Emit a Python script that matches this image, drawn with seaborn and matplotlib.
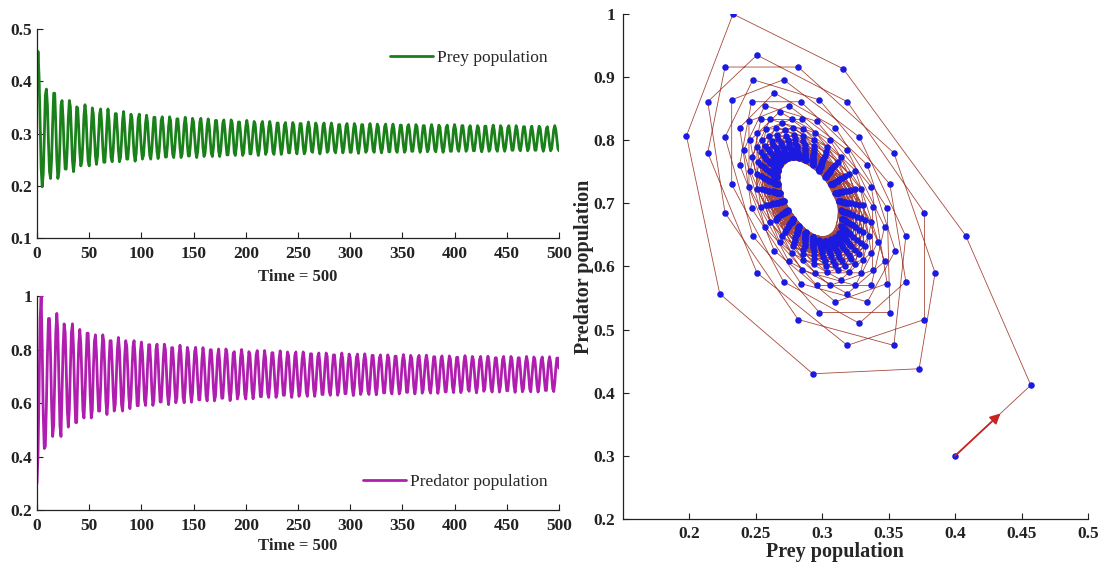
import matplotlib
matplotlib.use("Agg")
import matplotlib.pyplot as plt
import pandas as pd
import seaborn as sns

# ---------------------------------------------------------------------------
# Simulated populations, one value per time step (t = 0 ... 500)
# ---------------------------------------------------------------------------
# first steps of the orbit, starting from (prey, predator) = (0.4, 0.3)
prey_start = [0.400, 0.457, 0.408, 0.316, 0.233, 0.198, 0.223, 0.293, 0.373]
pred_start = [0.300, 0.412, 0.649, 0.913, 1.000, 0.807, 0.557, 0.430, 0.438]

# remaining steps, 15 steps (about two oscillations) per row
prey_cycles = [
    [0.385, 0.354, 0.282, 0.227, 0.214, 0.251, 0.319, 0.377, 0.377, 0.319, 0.251, 0.214, 0.227, 0.282, 0.354],
    [0.363, 0.328, 0.271, 0.232, 0.232, 0.271, 0.328, 0.363, 0.351, 0.298, 0.248, 0.227, 0.248, 0.298, 0.351],
    [0.349, 0.310, 0.264, 0.238, 0.247, 0.284, 0.334, 0.355, 0.334, 0.284, 0.247, 0.238, 0.264, 0.310, 0.349],
    [0.337, 0.296, 0.257, 0.241, 0.257, 0.296, 0.337, 0.347, 0.319, 0.275, 0.245, 0.245, 0.275, 0.319, 0.347],
    [0.325, 0.285, 0.254, 0.246, 0.268, 0.306, 0.338, 0.338, 0.306, 0.268, 0.246, 0.254, 0.285, 0.325, 0.342],
    [0.314, 0.277, 0.251, 0.251, 0.277, 0.314, 0.337, 0.329, 0.295, 0.261, 0.247, 0.261, 0.295, 0.329, 0.337],
    [0.304, 0.270, 0.251, 0.258, 0.286, 0.320, 0.335, 0.320, 0.286, 0.258, 0.251, 0.270, 0.304, 0.331, 0.331],
    [0.294, 0.265, 0.252, 0.265, 0.294, 0.325, 0.332, 0.312, 0.278, 0.255, 0.255, 0.278, 0.312, 0.332, 0.325],
    [0.286, 0.260, 0.254, 0.272, 0.303, 0.328, 0.328, 0.303, 0.272, 0.254, 0.260, 0.286, 0.317, 0.331, 0.317],
    [0.279, 0.257, 0.257, 0.279, 0.310, 0.329, 0.322, 0.294, 0.266, 0.254, 0.266, 0.294, 0.322, 0.329, 0.310],
    [0.273, 0.256, 0.262, 0.286, 0.315, 0.328, 0.315, 0.286, 0.262, 0.256, 0.273, 0.302, 0.325, 0.325, 0.302],
    [0.267, 0.256, 0.267, 0.294, 0.320, 0.326, 0.308, 0.280, 0.259, 0.259, 0.280, 0.308, 0.326, 0.320, 0.294],
    [0.263, 0.258, 0.274, 0.301, 0.322, 0.322, 0.301, 0.274, 0.258, 0.263, 0.287, 0.313, 0.325, 0.313, 0.287],
    [0.261, 0.261, 0.280, 0.307, 0.323, 0.318, 0.294, 0.269, 0.258, 0.269, 0.294, 0.318, 0.323, 0.307, 0.280],
    [0.260, 0.265, 0.287, 0.312, 0.323, 0.312, 0.287, 0.265, 0.260, 0.275, 0.300, 0.320, 0.320, 0.300, 0.275],
    [0.260, 0.270, 0.293, 0.316, 0.321, 0.306, 0.281, 0.263, 0.263, 0.281, 0.306, 0.321, 0.316, 0.293, 0.270],
    [0.261, 0.275, 0.300, 0.319, 0.319, 0.300, 0.275, 0.261, 0.266, 0.287, 0.311, 0.322, 0.311, 0.287, 0.266],
    [0.264, 0.281, 0.305, 0.320, 0.315, 0.293, 0.271, 0.261, 0.271, 0.293, 0.315, 0.320, 0.305, 0.281, 0.264],
    [0.267, 0.287, 0.310, 0.320, 0.310, 0.287, 0.267, 0.263, 0.276, 0.299, 0.317, 0.317, 0.299, 0.276, 0.263],
    [0.271, 0.293, 0.314, 0.319, 0.305, 0.281, 0.264, 0.264, 0.281, 0.305, 0.319, 0.314, 0.293, 0.271, 0.262],
    [0.277, 0.299, 0.317, 0.317, 0.299, 0.277, 0.264, 0.268, 0.287, 0.309, 0.319, 0.309, 0.287, 0.268, 0.264],
    [0.282, 0.304, 0.318, 0.313, 0.293, 0.272, 0.263, 0.272, 0.293, 0.313, 0.318, 0.304, 0.282, 0.265, 0.265],
    [0.287, 0.309, 0.318, 0.309, 0.287, 0.268, 0.264, 0.277, 0.299, 0.316, 0.316, 0.299, 0.277, 0.264, 0.268],
    [0.293, 0.313, 0.317, 0.304, 0.282, 0.266, 0.266, 0.282, 0.304, 0.317, 0.313, 0.293, 0.273, 0.264, 0.273],
    [0.298, 0.315, 0.315, 0.298, 0.277, 0.265, 0.269, 0.287, 0.308, 0.317, 0.308, 0.287, 0.269, 0.265, 0.277],
    [0.303, 0.316, 0.312, 0.293, 0.273, 0.264, 0.273, 0.293, 0.312, 0.316, 0.303, 0.282, 0.266, 0.266, 0.282],
    [0.308, 0.317, 0.308, 0.287, 0.270, 0.266, 0.278, 0.298, 0.315, 0.315, 0.298, 0.278, 0.266, 0.270, 0.287],
    [0.311, 0.315, 0.303, 0.282, 0.267, 0.267, 0.282, 0.303, 0.315, 0.311, 0.293, 0.273, 0.265, 0.273, 0.293],
    [0.314, 0.314, 0.298, 0.278, 0.266, 0.270, 0.287, 0.307, 0.316, 0.307, 0.287, 0.270, 0.266, 0.278, 0.298],
    [0.315, 0.311, 0.293, 0.274, 0.266, 0.274, 0.293, 0.311, 0.315, 0.303, 0.283, 0.268, 0.268, 0.283, 0.303],
    [0.315, 0.307, 0.288, 0.271, 0.267, 0.278, 0.298, 0.313, 0.313, 0.298, 0.278, 0.267, 0.271, 0.288, 0.307],
    [0.314, 0.302, 0.283, 0.268, 0.268, 0.283, 0.302, 0.314, 0.310, 0.293, 0.274, 0.266, 0.274, 0.293, 0.310],
    [0.313, 0.298, 0.278, 0.267, 0.271, 0.288, 0.307, 0.315, 0.307, 0.288, 0.271, 0.267],
]
pred_cycles = [
    [0.590, 0.780, 0.916, 0.916, 0.780, 0.590, 0.475, 0.516, 0.685, 0.861, 0.935, 0.861, 0.685, 0.516, 0.475],
    [0.648, 0.805, 0.896, 0.864, 0.730, 0.576, 0.510, 0.576, 0.730, 0.864, 0.896, 0.805, 0.648, 0.527, 0.527],
    [0.692, 0.820, 0.875, 0.820, 0.692, 0.573, 0.544, 0.625, 0.761, 0.861, 0.861, 0.761, 0.625, 0.544, 0.573],
    [0.726, 0.830, 0.855, 0.784, 0.663, 0.570, 0.570, 0.663, 0.784, 0.855, 0.830, 0.726, 0.608, 0.557, 0.608],
    [0.752, 0.833, 0.833, 0.752, 0.639, 0.570, 0.594, 0.695, 0.800, 0.845, 0.800, 0.695, 0.594, 0.570, 0.639],
    [0.773, 0.833, 0.812, 0.723, 0.622, 0.579, 0.622, 0.723, 0.812, 0.833, 0.773, 0.670, 0.590, 0.590, 0.670],
    [0.789, 0.828, 0.789, 0.697, 0.611, 0.591, 0.649, 0.747, 0.818, 0.818, 0.747, 0.649, 0.591, 0.611, 0.697],
    [0.801, 0.820, 0.766, 0.674, 0.604, 0.604, 0.674, 0.766, 0.820, 0.801, 0.722, 0.632, 0.594, 0.632, 0.722],
    [0.807, 0.807, 0.743, 0.655, 0.601, 0.620, 0.698, 0.781, 0.816, 0.781, 0.698, 0.620, 0.601, 0.655, 0.743],
    [0.808, 0.791, 0.721, 0.638, 0.603, 0.638, 0.721, 0.791, 0.808, 0.760, 0.677, 0.612, 0.612, 0.677, 0.760],
    [0.807, 0.775, 0.699, 0.626, 0.608, 0.658, 0.740, 0.799, 0.799, 0.740, 0.658, 0.608, 0.626, 0.699, 0.775],
    [0.802, 0.757, 0.679, 0.618, 0.618, 0.679, 0.757, 0.802, 0.786, 0.720, 0.642, 0.609, 0.642, 0.720, 0.786],
    [0.792, 0.738, 0.662, 0.615, 0.632, 0.700, 0.770, 0.800, 0.770, 0.700, 0.632, 0.615, 0.662, 0.738, 0.792],
    [0.781, 0.719, 0.647, 0.616, 0.647, 0.719, 0.781, 0.796, 0.754, 0.681, 0.624, 0.624, 0.681, 0.754, 0.796],
    [0.767, 0.700, 0.636, 0.621, 0.665, 0.736, 0.788, 0.788, 0.736, 0.665, 0.621, 0.636, 0.700, 0.767, 0.795],
    [0.752, 0.683, 0.629, 0.629, 0.683, 0.752, 0.791, 0.777, 0.719, 0.651, 0.621, 0.651, 0.719, 0.777, 0.791],
    [0.735, 0.667, 0.625, 0.640, 0.701, 0.764, 0.791, 0.764, 0.701, 0.640, 0.625, 0.667, 0.735, 0.784, 0.784],
    [0.718, 0.653, 0.625, 0.653, 0.718, 0.774, 0.787, 0.749, 0.684, 0.632, 0.632, 0.684, 0.749, 0.787, 0.774],
    [0.701, 0.643, 0.629, 0.669, 0.734, 0.780, 0.780, 0.734, 0.669, 0.629, 0.643, 0.701, 0.762, 0.787, 0.762],
    [0.685, 0.635, 0.635, 0.685, 0.748, 0.783, 0.771, 0.718, 0.655, 0.628, 0.655, 0.718, 0.771, 0.783, 0.748],
    [0.670, 0.632, 0.645, 0.702, 0.760, 0.784, 0.760, 0.702, 0.645, 0.632, 0.670, 0.733, 0.778, 0.778, 0.733],
    [0.657, 0.631, 0.657, 0.718, 0.768, 0.780, 0.746, 0.686, 0.638, 0.638, 0.686, 0.746, 0.780, 0.768, 0.718],
    [0.647, 0.634, 0.671, 0.732, 0.775, 0.775, 0.732, 0.671, 0.634, 0.647, 0.702, 0.758, 0.781, 0.758, 0.702],
    [0.640, 0.640, 0.686, 0.745, 0.778, 0.767, 0.717, 0.659, 0.634, 0.659, 0.717, 0.767, 0.778, 0.745, 0.686],
    [0.637, 0.649, 0.702, 0.756, 0.779, 0.756, 0.702, 0.649, 0.637, 0.673, 0.731, 0.773, 0.773, 0.731, 0.673],
    [0.636, 0.660, 0.717, 0.765, 0.776, 0.744, 0.687, 0.642, 0.642, 0.687, 0.744, 0.776, 0.765, 0.717, 0.660],
    [0.639, 0.674, 0.731, 0.771, 0.771, 0.731, 0.674, 0.639, 0.651, 0.702, 0.755, 0.777, 0.755, 0.702, 0.651],
    [0.644, 0.688, 0.743, 0.774, 0.763, 0.717, 0.662, 0.638, 0.662, 0.717, 0.763, 0.774, 0.743, 0.688, 0.644],
    [0.653, 0.703, 0.754, 0.775, 0.754, 0.703, 0.653, 0.641, 0.675, 0.730, 0.769, 0.769, 0.730, 0.675, 0.641],
    [0.663, 0.717, 0.763, 0.774, 0.742, 0.688, 0.646, 0.646, 0.688, 0.742, 0.774, 0.763, 0.717, 0.663, 0.640],
    [0.675, 0.730, 0.769, 0.769, 0.730, 0.675, 0.642, 0.653, 0.703, 0.753, 0.774, 0.753, 0.703, 0.653, 0.642],
    [0.689, 0.741, 0.772, 0.761, 0.717, 0.664, 0.641, 0.664, 0.717, 0.761, 0.772, 0.741, 0.689, 0.647, 0.647],
    [0.703, 0.752, 0.773, 0.752, 0.703, 0.654, 0.643, 0.676, 0.730, 0.768, 0.768, 0.730],
]

time_ticks = [0, 50, 100, 150, 200, 250, 300, 350, 400, 450, 500]
prey_ticks = [0.1, 0.2, 0.3, 0.4, 0.5]
pred_ticks = [0.2, 0.4, 0.6, 0.8, 1.0]
phase_xticks = [0.2, 0.25, 0.3, 0.35, 0.4, 0.45, 0.5]
phase_yticks = [0.2, 0.3, 0.4, 0.5, 0.6, 0.7, 0.8, 0.9, 1.0]

prey = prey_start + [v for row in prey_cycles for v in row]
pred = pred_start + [v for row in pred_cycles for v in row]
df = pd.DataFrame({"t": range(len(prey)), "prey": prey, "pred": pred})

# ---------------------------------------------------------------------------
sns.set_style("ticks")
plt.rcParams["font.family"] = ["Liberation Serif", "DejaVu Serif"]
plt.rcParams["axes.edgecolor"] = "#222222"
plt.rcParams["axes.linewidth"] = 0.9

PREY_C = "#1a801a"
PRED_C = "#b01eb0"
LINE_C = "#a84a3c"
DOT_C = "#1a1ae0"
TICK_FS = 12.5


def fmt(v):
    return f"{v:g}"


def style_axis(ax, xt, yt, xpad, ypad):
    sns.despine(ax=ax)
    ax.set_xticks(xt)
    ax.set_yticks(yt)
    ax.set_xticklabels([fmt(v) for v in xt], fontsize=TICK_FS, fontweight="bold")
    ax.set_yticklabels([fmt(v) for v in yt], fontsize=TICK_FS, fontweight="bold")
    ax.tick_params(axis="x", direction="in", length=4, width=0.8, pad=xpad, colors="#222222")
    ax.tick_params(axis="y", direction="in", length=4, width=0.8, pad=ypad, colors="#222222")


fig = plt.figure(figsize=(11.04, 5.67), dpi=100)
ax_prey = fig.add_axes([0.0335, 0.5802, 0.4728, 0.3687])
ax_pred = fig.add_axes([0.0335, 0.1005, 0.4728, 0.3774])
ax_phase = fig.add_axes([0.564, 0.0847, 0.4215, 0.8906])

# --- prey time series ---
sns.lineplot(data=df, x="t", y="prey", ax=ax_prey, color=PREY_C, lw=2.0,
             label="Prey population")
ax_prey.set_xlim(0, 500)
ax_prey.set_ylim(0.1, 0.5)
style_axis(ax_prey, time_ticks, prey_ticks, 5.5, 3.5)
ax_prey.set_ylabel("")
ax_prey.set_xlabel("Time = 500", fontsize=12, fontweight="bold", labelpad=5)
ax_prey.legend(loc="center right", bbox_to_anchor=(1.008, 0.862), frameon=False,
               handlelength=2.5, handletextpad=0.2, fontsize=12.5)

# --- predator time series ---
sns.lineplot(data=df, x="t", y="pred", ax=ax_pred, color=PRED_C, lw=2.0,
             label="Predator population")
ax_pred.set_xlim(0, 500)
ax_pred.set_ylim(0.2, 1.0)
style_axis(ax_pred, time_ticks, pred_ticks, 5.5, 3.5)
ax_pred.set_ylabel("")
ax_pred.set_xlabel("Time = 500", fontsize=12, fontweight="bold", labelpad=3)
ax_pred.legend(loc="center right", bbox_to_anchor=(1.008, 0.131), frameon=False,
               handlelength=2.5, handletextpad=0.2, fontsize=12.5)

# --- phase portrait ---
sns.lineplot(data=df, x="prey", y="pred", ax=ax_phase, sort=False, estimator=None,
             color=LINE_C, lw=0.6, zorder=2)
sns.scatterplot(data=df, x="prey", y="pred", ax=ax_phase, s=22, color=DOT_C,
                linewidth=0, zorder=3)
# direction of motion along the first step
x0, y0 = prey[0], pred[0]
x1, y1 = prey[1], pred[1]
ax_phase.annotate("", xy=(x0 + 0.6 * (x1 - x0), y0 + 0.6 * (y1 - y0)), xytext=(x0, y0),
                  arrowprops=dict(arrowstyle="-|>", color="#c82222", lw=1.3,
                                  mutation_scale=15, shrinkA=0, shrinkB=0),
                  zorder=4)
ax_phase.set_xlim(0.15, 0.5)
ax_phase.set_ylim(0.2, 1.0)
style_axis(ax_phase, phase_xticks, phase_yticks, 5, 5.5)
ax_phase.set_xlabel("Prey population", fontsize=14.5, fontweight="bold")
ax_phase.set_ylabel("Predator population", fontsize=14.5, fontweight="bold")
ax_phase.xaxis.set_label_coords(0.457, -0.045)
ax_phase.yaxis.set_label_coords(-0.062, 0.5)

fig.savefig("out.png", dpi=100, facecolor="white")
